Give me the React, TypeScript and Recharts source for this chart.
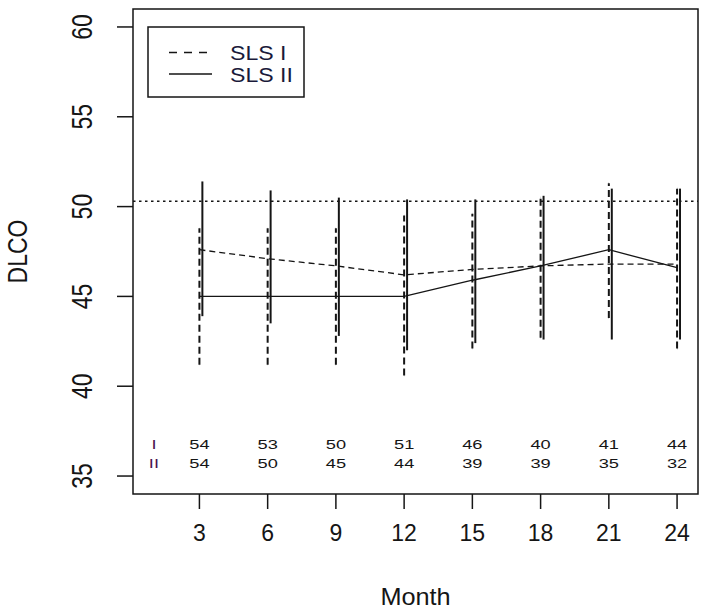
import {
  ComposedChart,
  Line,
  Scatter,
  XAxis,
  YAxis,
  ErrorBar,
  ReferenceLine,
  ReferenceArea,
} from 'recharts'

// months with measurements
const months = [3, 6, 9, 12, 15, 18, 21, 24]

// SLS I (dashed): mean and interval ends
const sls1Mean = [47.6, 47.1, 46.7, 46.2, 46.5, 46.7, 46.8, 46.8]
const sls1Low = [41.2, 41.2, 41.2, 40.6, 42.1, 42.7, 43.8, 42.1]
const sls1High = [48.8, 48.8, 48.8, 49.5, 49.6, 50.5, 51.3, 51.0]

// SLS II (solid)
const sls2Mean = [45.0, 45.0, 45.0, 45.0, 45.9, 46.7, 47.6, 46.6]
const sls2Low = [43.9, 43.5, 42.8, 42.0, 42.4, 42.6, 42.6, 42.6]
const sls2High = [51.4, 50.9, 50.5, 50.4, 50.4, 50.6, 51.0, 51.0]

// patients at risk
const countsI = [54, 53, 50, 51, 46, 40, 41, 44]
const countsII = [54, 50, 45, 44, 39, 39, 35, 32]

const refLevel = 50.3
const yTicks = [35, 40, 45, 50, 55, 60]
const xTicks = [3, 6, 9, 12, 15, 18, 21, 24]

// R-style axis ranges (4% padding)
const X_MIN = 0.08
const X_MAX = 24.92
const Y_MIN = 34
const Y_MAX = 61
const BAR_SHIFT = 0.13 // solid bars sit a hair right of the dashed ones
const ROW_I = 36.8
const ROW_II = 35.75

const FONT = '"Liberation Sans", Arial, sans-serif'
const INK = '#151515'

const meanRows = months.map((m, i) => ({
  month: m,
  sls1: sls1Mean[i],
  sls2: sls2Mean[i],
  err1: [sls1Mean[i] - sls1Low[i], sls1High[i] - sls1Mean[i]],
}))

const bar2Rows = months.map((m, i) => ({
  month: m + BAR_SHIFT,
  sls2: sls2Mean[i],
  err2: [sls2Mean[i] - sls2Low[i], sls2High[i] - sls2Mean[i]],
}))

const countRows = [
  { month: 1, y: ROW_I, text: 'I' },
  { month: 1, y: ROW_II, text: 'II' },
  ...months.map((m, i) => ({ month: m, y: ROW_I, text: String(countsI[i]) })),
  ...months.map((m, i) => ({ month: m, y: ROW_II, text: String(countsII[i]) })),
]

const CountText = (props: any) => {
  const { cx, cy, payload } = props
  return (
    <text
      x={0}
      y={0}
      transform={`translate(${cx} ${cy}) scale(1.35 1)`}
      textAnchor="middle"
      dominantBaseline="central"
      fontFamily={FONT}
      fontSize={13.5}
      fill={payload.text.startsWith('I') ? '#4a1450' : INK}
    >
      {payload.text}
    </text>
  )
}

const XTick = (props: any) => {
  const { x, y, payload } = props
  return (
    <text x={x} y={y + 22} textAnchor="middle" dominantBaseline="central" fontFamily={FONT} fontSize={23} fill={INK}>
      {payload.value}
    </text>
  )
}

const YTick = (props: any) => {
  const { x, y, payload } = props
  return (
    <text
      x={0}
      y={0}
      transform={`translate(${x - 33} ${y}) scale(1.25 1) rotate(-90)`}
      textAnchor="middle"
      dominantBaseline="central"
      fontFamily={FONT}
      fontSize={23}
      fill={INK}
    >
      {payload.value}
    </text>
  )
}

function LegendBox() {
  return (
    <svg width={160} height={74} style={{ position: 'absolute', left: 147, top: 26 }}>
      <rect x={1} y={1} width={156} height={70} fill="#fff" stroke={INK} strokeWidth={1.5} />
      <line x1={22} x2={65} y1={26.5} y2={26.5} stroke={INK} strokeWidth={1.3} strokeDasharray="8 7" />
      <line x1={22} x2={65} y1={48} y2={48} stroke={INK} strokeWidth={1.3} />
      <text
        x={0}
        y={0}
        transform="translate(83 27) scale(1.1 1)"
        dominantBaseline="central"
        fontFamily={FONT}
        fontSize={21}
        fill="#1a1a3a"
      >
        SLS I
      </text>
      <text
        x={0}
        y={0}
        transform="translate(83 49) scale(1.1 1)"
        dominantBaseline="central"
        fontFamily={FONT}
        fontSize={21}
        fill="#1a1a3a"
      >
        SLS II
      </text>
    </svg>
  )
}

export default function App() {
  return (
    <div style={{ position: 'absolute', left: 0, top: 0, width: 704, height: 612, background: '#fff' }}>
      <ComposedChart width={704} height={612} margin={{ top: 9, right: 6, left: 0, bottom: 0 }}>
        <XAxis
          dataKey="month"
          type="number"
          domain={[X_MIN, X_MAX]}
          ticks={xTicks}
          allowDataOverflow
          height={118}
          axisLine={false}
          tickSize={15}
          tickLine={{ stroke: INK, strokeWidth: 1.5 }}
          tick={<XTick />}
          label={({ viewBox }: any) => (
            <text
              x={0}
              y={0}
              transform={`translate(${viewBox.x + viewBox.width / 2} 597) scale(1.1 1)`}
              textAnchor="middle"
              dominantBaseline="central"
              fontFamily={FONT}
              fontSize={23}
              fill={INK}
            >
              Month
            </text>
          )}
        />
        <YAxis
          type="number"
          domain={[Y_MIN, Y_MAX]}
          ticks={yTicks}
          allowDataOverflow
          width={133}
          axisLine={false}
          tickSize={16}
          tickLine={{ stroke: INK, strokeWidth: 1.5 }}
          tick={<YTick />}
          label={({ viewBox }: any) => (
            <text
              x={0}
              y={0}
              transform={`translate(17 ${viewBox.y + viewBox.height / 2}) scale(1.2 1) rotate(-90)`}
              textAnchor="middle"
              dominantBaseline="central"
              fontFamily={FONT}
              fontSize={23}
              fill={INK}
            >
              DLCO
            </text>
          )}
        />
        <ReferenceArea x1={X_MIN} x2={X_MAX} y1={Y_MIN} y2={Y_MAX} fill="none" stroke={INK} strokeWidth={1.5} />
        <ReferenceLine y={refLevel} stroke={INK} strokeWidth={1.5} strokeDasharray="2.5 3.5" />
        <Line
          data={meanRows}
          dataKey="sls1"
          type="linear"
          stroke={INK}
          strokeWidth={1.3}
          strokeDasharray="6 4"
          dot={false}
          isAnimationActive={false}
        >
          <ErrorBar dataKey="err1" width={0} stroke={INK} strokeWidth={2} strokeDasharray="7 4" direction="y" />
        </Line>
        <Line
          data={meanRows}
          dataKey="sls2"
          type="linear"
          stroke={INK}
          strokeWidth={1.3}
          dot={false}
          isAnimationActive={false}
        />
        <Line
          data={bar2Rows}
          dataKey="sls2"
          type="linear"
          stroke="none"
          dot={false}
          isAnimationActive={false}
        >
          <ErrorBar dataKey="err2" width={0} stroke={INK} strokeWidth={2} direction="y" />
        </Line>
        <Scatter data={countRows} dataKey="y" shape={<CountText />} isAnimationActive={false} />
      </ComposedChart>
      <LegendBox />
    </div>
  )
}
